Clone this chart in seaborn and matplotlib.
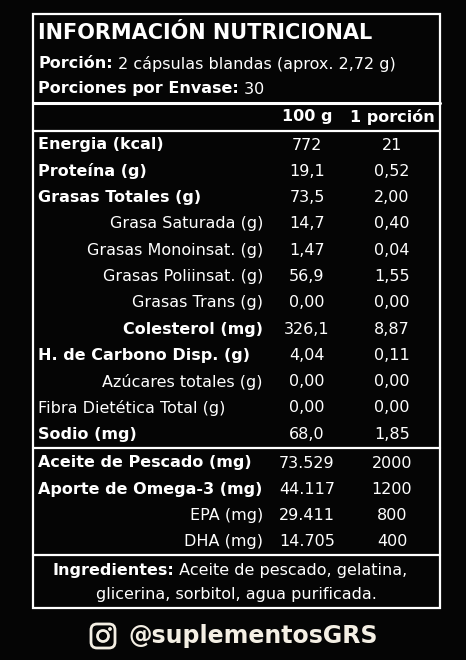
import matplotlib
matplotlib.use("Agg")
import matplotlib.pyplot as plt
import seaborn as sns
from matplotlib.patches import Rectangle, FancyBboxPatch, Circle

sns.set_theme(style="white")
plt.rcParams['font.family'] = ['DejaVu Sans']

title = "INFORMACIÓN NUTRICIONAL"
col_headers = ["100 g", "1 porción"]
labels = ["Energia (kcal)", "Proteína (g)", "Grasas Totales (g)", "Grasa Saturada (g)",
          "Grasas Monoinsat. (g)", "Grasas Poliinsat. (g)", "Grasas Trans (g)", "Colesterol (mg)",
          "H. de Carbono Disp. (g)", "Azúcares totales (g)", "Fibra Dietética Total (g)", "Sodio (mg)"]
bold = [1, 1, 1, 0, 0, 0, 0, 1, 1, 0, 0, 1]
indent = [0, 0, 0, 1, 1, 1, 1, 1, 0, 1, 0, 0]
per100 = ["772", "19,1", "73,5", "14,7", "1,47", "56,9", "0,00", "326,1", "4,04", "0,00", "0,00", "68,0"]
perserv = ["21", "0,52", "2,00", "0,40", "0,04", "1,55", "0,00", "8,87", "0,11", "0,00", "0,00", "1,85"]
extra_labels = ["Aceite de Pescado (mg)", "Aporte de Omega-3 (mg)", "EPA (mg)", "DHA (mg)"]
extra_bold = [1, 1, 0, 0]
extra100 = ["73.529", "44.117", "29.411", "14.705"]
extraserv = ["2000", "1200", "800", "400"]

bg = "#050505"
fg = "white"
fs = 11.5
fig = plt.figure(figsize=(4.66, 6.60), dpi=100, facecolor=bg)
ax = fig.add_axes([0, 0, 1, 1])
ax.set_facecolor(bg)
ax.set_xlim(0, 466)
ax.set_ylim(660, 0)
ax.axis("off")

# frame and rules
ax.add_patch(Rectangle((33, 14), 407, 594, fill=False, ec=fg, lw=1.6))
for y, w in [(103, 2.2), (131, 1.6), (448, 1.6), (555, 1.6)]:
    ax.plot([33, 440], [y, y], color=fg, lw=w)


def pair(x, y, b_txt, n_txt, ha="left"):
    # bold lead-in followed by normal text
    t = ax.text(x, y, b_txt, color=fg, fontsize=fs, fontweight="bold", va="center", ha=ha)
    ax.annotate(" " + n_txt, xy=(1, 0.5), xycoords=t, color=fg, fontsize=fs, va="center")
    return t


ax.text(38, 33, title, color=fg, fontsize=15, fontweight="bold", va="center")
pair(38, 64, "Porción:", "2 cápsulas blandas (aprox. 2,72 g)")
pair(38, 89, "Porciones por Envase:", "30")

c1, c2 = 307, 392
ax.text(c1, 117, col_headers[0], color=fg, fontsize=fs, fontweight="bold", ha="center", va="center")
ax.text(c2, 117, col_headers[1], color=fg, fontsize=fs, fontweight="bold", ha="center", va="center")


def row(y, lab, b, ind, v1, v2):
    x, ha = (263, "right") if ind else (38, "left")
    ax.text(x, y, lab, color=fg, fontsize=fs, fontweight="bold" if b else "normal", ha=ha, va="center")
    ax.text(c1, y, v1, color=fg, fontsize=fs, ha="center", va="center")
    ax.text(c2, y, v2, color=fg, fontsize=fs, ha="center", va="center")


for i in range(len(labels)):
    row(145 + i * 26.3, labels[i], bold[i], indent[i], per100[i], perserv[i])
for i in range(len(extra_labels)):
    row(463 + i * 26.3, extra_labels[i], extra_bold[i], i >= 2, extra100[i], extraserv[i])

pair(52, 570, "Ingredientes:", "Aceite de pescado, gelatina,")
ax.text(236, 595, "glicerina, sorbitol, agua purificada.", color=fg, fontsize=fs, ha="center", va="center")

# instagram handle
hc = "#f4efe4"
ax.add_patch(FancyBboxPatch((91, 624), 24, 24, boxstyle="round,pad=0,rounding_size=6",
                            fill=False, ec=hc, lw=2))
ax.add_patch(Circle((103, 636), 5.5, fill=False, ec=hc, lw=2))
ax.add_patch(Circle((110, 629), 1.2, color=hc))
ax.text(128, 636, "@suplementosGRS", color=hc, fontsize=17, fontweight="bold", va="center")

fig.savefig("out.png", dpi=100, facecolor=bg)
